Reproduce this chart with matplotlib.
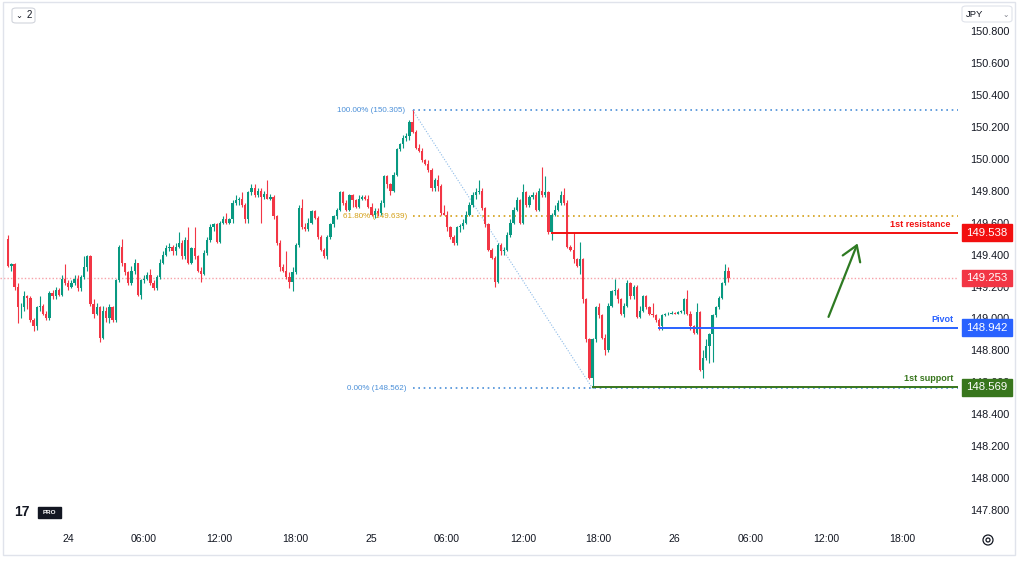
import numpy as np
import matplotlib
matplotlib.use('Agg')
import matplotlib.pyplot as plt
from matplotlib.patches import Rectangle, FancyBboxPatch, Ellipse, RegularPolygon
from matplotlib.transforms import blended_transform_factory

plt.rcParams['font.family'] = ['Liberation Sans', 'DejaVu Sans']

# USDJPY 15 min candles
first_open = 149.50
closes = [
    149.33, 149.34, 149.20, 149.07, 149.07, 149.14, 149.13, 148.99, 148.95, 149.07,
    149.08, 149.03, 149.00, 149.16, 149.14, 149.18, 149.15, 149.25, 149.22, 149.20,
    149.22, 149.25, 149.19, 149.26, 149.32, 149.39, 149.09, 149.03, 149.07, 148.88,
    149.05, 149.00, 149.07, 148.99, 149.24, 149.45, 149.35, 149.29, 149.22, 149.30,
    149.35, 149.15, 149.24, 149.25, 149.27, 149.22, 149.19, 149.26, 149.35, 149.40,
    149.44, 149.45, 149.42, 149.45, 149.47, 149.39, 149.49, 149.35, 149.44, 149.39,
    149.30, 149.28, 149.41, 149.49, 149.57, 149.59, 149.48, 149.60, 149.62, 149.60,
    149.62, 149.72, 149.74, 149.75, 149.71, 149.62, 149.79, 149.82, 149.77, 149.80,
    149.76, 149.78, 149.75, 149.76, 149.64, 149.47, 149.32, 149.30, 149.26, 149.23,
    149.29, 149.46, 149.69, 149.57, 149.56, 149.60, 149.67, 149.63, 149.51, 149.43,
    149.39, 149.51, 149.59, 149.64, 149.68, 149.79, 149.72, 149.68, 149.77, 149.74,
    149.70, 149.75, 149.76, 149.75, 149.70, 149.65, 149.67, 149.66, 149.72, 149.89,
    149.84, 149.80, 149.90, 150.06, 150.09, 150.13, 150.14, 150.23, 150.17, 150.07,
    150.05, 149.99, 149.97, 149.93, 149.82, 149.87, 149.83, 149.66, 149.65, 149.57,
    149.51, 149.47, 149.57, 149.58, 149.60, 149.65, 149.71, 149.77, 149.79, 149.80,
    149.69, 149.59, 149.43, 149.38, 149.23, 149.46, 149.42, 149.43, 149.52, 149.60,
    149.68, 149.74, 149.60, 149.79, 149.71, 149.76, 149.77, 149.68, 149.80, 149.77,
    149.79, 149.54, 149.65, 149.68, 149.72, 149.77, 149.72, 149.45, 149.43, 149.37,
    149.33, 149.37, 149.12, 148.87, 148.63, 148.87, 149.07, 149.02, 148.88, 148.80,
    149.08, 149.17, 149.18, 149.12, 149.03, 149.08, 149.22, 149.14, 149.20, 149.01,
    149.05, 149.14, 149.07, 149.03, 149.02, 148.99, 148.95, 149.02, 149.025, 149.03,
    149.035, 149.03, 149.04, 149.045, 149.12, 149.03, 148.95, 148.91, 149.04, 148.68,
    148.75, 148.83, 148.90, 149.02, 149.07, 149.13, 149.22, 149.30, 149.253]
highs = [
    149.52, 149.35, 149.35, 149.22, 149.10, 149.17, 149.15, 149.14, 149.00, 149.08,
    149.14, 149.09, 149.05, 149.17, 149.18, 149.20, 149.19, 149.27, 149.34, 149.24,
    149.24, 149.27, 149.27, 149.27, 149.39, 149.40, 149.40, 149.12, 149.10, 149.08,
    149.08, 149.07, 149.09, 149.08, 149.25, 149.46, 149.50, 149.35, 149.30, 149.33,
    149.37, 149.35, 149.25, 149.27, 149.29, 149.31, 149.24, 149.27, 149.37, 149.42,
    149.46, 149.47, 149.46, 149.47, 149.54, 149.49, 149.51, 149.57, 149.45, 149.57,
    149.40, 149.32, 149.43, 149.51, 149.59, 149.60, 149.60, 149.61, 149.64, 149.66,
    149.63, 149.74, 149.77, 149.76, 149.79, 149.72, 149.80, 149.84, 149.84, 149.82,
    149.82, 149.80, 149.87, 149.78, 149.77, 149.65, 149.49, 149.34, 149.42, 149.29,
    149.32, 149.47, 149.71, 149.75, 149.60, 149.63, 149.68, 149.68, 149.64, 149.52,
    149.44, 149.52, 149.60, 149.65, 149.69, 149.80, 149.80, 149.74, 149.78, 149.78,
    149.75, 149.77, 149.77, 149.77, 149.77, 149.72, 149.69, 149.69, 149.74, 149.90,
    149.90, 149.85, 149.92, 150.07, 150.10, 150.15, 150.16, 150.24, 150.305, 150.18,
    150.09, 150.07, 150.00, 149.99, 149.94, 149.88, 149.90, 149.84, 149.71, 149.67,
    149.58, 149.52, 149.58, 149.59, 149.62, 149.67, 149.73, 149.79, 149.82, 149.87,
    149.82, 149.70, 149.60, 149.44, 149.39, 149.47, 149.47, 149.45, 149.54, 149.62,
    149.70, 149.76, 149.75, 149.84, 149.80, 149.77, 149.79, 149.79, 149.82, 149.95,
    149.89, 149.80, 149.66, 149.71, 149.74, 149.80, 149.82, 149.74, 149.46, 149.54,
    149.38, 149.48, 149.38, 149.13, 148.88, 148.88, 149.08, 149.10, 149.03, 148.90,
    149.10, 149.18, 149.25, 149.19, 149.13, 149.10, 149.24, 149.23, 149.21, 149.21,
    149.08, 149.15, 149.15, 149.08, 149.10, 149.03, 149.00, 149.03, 149.035, 149.04,
    149.045, 149.04, 149.05, 149.055, 149.13, 149.18, 149.05, 148.96, 149.10, 149.05,
    148.80, 148.87, 148.91, 149.03, 149.08, 149.14, 149.23, 149.34, 149.32]
lows = [
    149.32, 149.30, 149.18, 148.97, 149.00, 149.05, 149.06, 148.98, 148.92, 148.93,
    149.05, 149.02, 148.99, 148.99, 149.12, 149.12, 149.14, 149.14, 149.21, 149.18,
    149.19, 149.21, 149.17, 149.17, 149.25, 149.30, 149.08, 149.00, 149.02, 148.85,
    148.87, 148.98, 148.97, 148.98, 148.98, 149.23, 149.33, 149.27, 149.21, 149.21,
    149.28, 149.14, 149.12, 149.22, 149.24, 149.21, 149.18, 149.18, 149.25, 149.34,
    149.39, 149.42, 149.40, 149.40, 149.44, 149.37, 149.37, 149.34, 149.34, 149.37,
    149.29, 149.23, 149.27, 149.40, 149.48, 149.55, 149.47, 149.47, 149.59, 149.59,
    149.59, 149.60, 149.71, 149.71, 149.70, 149.60, 149.60, 149.77, 149.76, 149.76,
    149.60, 149.75, 149.75, 149.74, 149.62, 149.46, 149.30, 149.29, 149.25, 149.19,
    149.17, 149.28, 149.45, 149.56, 149.55, 149.55, 149.59, 149.62, 149.50, 149.42,
    149.38, 149.37, 149.50, 149.57, 149.62, 149.67, 149.71, 149.67, 149.67, 149.70,
    149.69, 149.69, 149.74, 149.74, 149.69, 149.64, 149.63, 149.64, 149.65, 149.70,
    149.82, 149.77, 149.79, 149.89, 150.05, 150.07, 150.11, 150.12, 150.16, 150.06,
    150.04, 149.98, 149.96, 149.92, 149.80, 149.80, 149.80, 149.65, 149.65, 149.55,
    149.50, 149.46, 149.46, 149.54, 149.56, 149.59, 149.64, 149.70, 149.75, 149.78,
    149.68, 149.57, 149.42, 149.37, 149.20, 149.22, 149.40, 149.40, 149.42, 149.51,
    149.59, 149.67, 149.59, 149.59, 149.70, 149.70, 149.75, 149.67, 149.67, 149.76,
    149.76, 149.53, 149.49, 149.64, 149.67, 149.71, 149.71, 149.44, 149.42, 149.35,
    149.32, 149.28, 149.10, 148.85, 148.62, 148.562, 148.85, 149.00, 148.87, 148.77,
    148.79, 149.07, 149.15, 149.10, 149.02, 149.01, 149.07, 149.12, 149.12, 149.00,
    149.00, 149.04, 149.06, 149.02, 149.01, 148.98, 148.93, 148.93, 149.015, 149.02,
    149.025, 149.025, 149.025, 149.035, 149.03, 149.02, 148.93, 148.90, 148.90, 148.67,
    148.63, 148.74, 148.72, 148.73, 149.01, 149.06, 149.12, 149.21, 149.23]

price_ticks = [150.8, 150.6, 150.4, 150.2, 150.0, 149.8, 149.6, 149.4, 149.2,
               149.0, 148.8, 148.6, 148.4, 148.2, 148.0, 147.8]
time_ticks = [18.9, 42.9, 66.9, 90.9, 114.9, 138.9, 162.9, 186.9, 210.9, 234.9, 258.9, 282.9]
time_labels = ['24', '06:00', '12:00', '18:00', '25', '06:00', '12:00', '18:00',
               '26', '06:00', '12:00', '18:00']

fib_high, fib_high_idx = 150.305, 128
fib_low, fib_low_idx = 148.562, 185
fib_618 = 149.639
resistance, res_start = 149.538, 172
pivot, pivot_start = 148.942, 206
support, sup_start = 148.569, 185
last_price = 149.253
arrow_from = (259.7, 149.01)
arrow_to = (268.9, 149.47)

UP = '#089981'
DOWN = '#f23645'
W, H = 1018, 561
XMIN, XMAX = -2.63, 300.7

fig = plt.figure(figsize=(W / 100, H / 100), dpi=100)
fig.patch.set_facecolor('white')
ax = fig.add_axes([0, 39 / H, 958 / W, 519 / H])
ax.set_xlim(XMIN, XMAX)
ax.set_ylim(147.726, 150.975)
for s in ax.spines.values():
    s.set_visible(False)

# candles
closes = np.array(closes)
opens = np.r_[first_open, closes[:-1]]
idx = np.arange(len(closes))
cols = np.where(closes >= opens, UP, DOWN)
lo = np.minimum(np.array(lows), np.minimum(opens, closes))
hi = np.maximum(np.array(highs), np.maximum(opens, closes))
ax.vlines(idx, lo, hi, colors=cols, lw=0.8, zorder=3)
body = np.maximum(np.abs(closes - opens), 0.005)
ax.bar(idx, body, bottom=np.minimum(opens, closes), width=0.72, color=cols, lw=0, zorder=3)

# price scale
ax.yaxis.tick_right()
ax.set_yticks(price_ticks)
ax.set_yticklabels([f'{v:.3f}' for v in price_ticks])
ax.tick_params(axis='y', length=0, pad=8.4, labelsize=7.8, labelcolor='#131722')
ax.set_xticks(time_ticks)
ax.set_xticklabels(time_labels)
ax.tick_params(axis='x', length=0, pad=9, labelsize=7.6, labelcolor='#131722')

# fib retracement
fib_blue = '#4a8fd8'
ax.plot([fib_high_idx, XMAX], [fib_high, fib_high], color=fib_blue, lw=1.2, ls=(0, (1, 2.2)), zorder=2)
ax.plot([fib_high_idx, XMAX], [fib_low, fib_low], color=fib_blue, lw=1.2, ls=(0, (1, 2.2)), zorder=2)
ax.plot([fib_high_idx, XMAX], [fib_618, fib_618], color='#d4a017', lw=1.2, ls=(0, (1, 2.2)), zorder=2)
ax.plot([fib_high_idx, fib_low_idx], [fib_high, fib_low], color='#8dbbe8', lw=0.8, ls=(0, (1, 1.5)), zorder=2)
ax.text(125.8, fib_high, f'100.00% ({fib_high:.3f})', color=fib_blue, fontsize=5.8, ha='right', va='center')
ax.text(126.2, fib_618, f'61.80% ({fib_618:.3f})', color='#d4a017', fontsize=5.8, ha='right', va='center', zorder=2)
ax.text(126.0, fib_low, f'0.00% ({fib_low:.3f})', color=fib_blue, fontsize=5.8, ha='right', va='center')

# levels
ax.axhline(last_price, color='#f7a1a8', lw=1, ls=(0, (1, 1.5)), zorder=1)
ax.plot([res_start, XMAX], [resistance] * 2, color='#f20f0f', lw=1.4, zorder=4)
ax.plot([pivot_start, XMAX], [pivot] * 2, color='#2962ff', lw=1.4, zorder=4)
ax.plot([sup_start, XMAX], [support] * 2, color='#38761d', lw=1.4, zorder=4)
ax.text(298.2, resistance + 0.05, '1st resistance', color='#f20f0f', fontsize=6.5, fontweight='bold', ha='right', va='center')
ax.text(299.3, pivot + 0.05, 'Pivot', color='#2962ff', fontsize=6.5, fontweight='bold', ha='right', va='center')
ax.text(299.3, support + 0.055, '1st support', color='#38761d', fontsize=6.5, fontweight='bold', ha='right', va='center')

ax.annotate('', xy=arrow_to, xytext=arrow_from,
            arrowprops=dict(arrowstyle='->,head_length=0.7,head_width=0.45', color='#2e7a22',
                            lw=1.6, mutation_scale=15, shrinkA=0, shrinkB=0))

# price tags on the scale
tr = blended_transform_factory(fig.transFigure, ax.transData)
for val, c in [(resistance, '#f20f0f'), (last_price, '#f23645'), (pivot, '#2962ff'), (support, '#38761d')]:
    ax.add_patch(Rectangle((962 / W, val - 0.052), 50 / W, 0.104, transform=tr, color=c, clip_on=False, zorder=6))
    ax.text(987 / W, val, f'{val:.3f}', transform=tr, color='white', fontsize=8.2, ha='center', va='center',
            clip_on=False, zorder=7)


def px(x, y):
    return x / W, 1 - y / H


# chrome: outer frame, widgets, logo, settings icon
fig.add_artist(Rectangle(px(3, 555), 1012 / W, 553 / H, fill=False, ec='#e0e3eb', lw=1))
fig.add_artist(FancyBboxPatch(px(12, 23), 23 / W, 15 / H, boxstyle='round,pad=0,rounding_size=0.004',
                              fc='white', ec='#d1d4dc', lw=0.8))
fig.text(*px(19, 15.5), '⌄', fontsize=6, color='#131722', ha='center', va='center', family='DejaVu Sans')
fig.text(*px(29, 15.5), '2', fontsize=7, color='#131722', ha='center', va='center')
fig.add_artist(FancyBboxPatch(px(962, 22), 50 / W, 16 / H, boxstyle='round,pad=0,rounding_size=0.004',
                              fc='white', ec='#e0e3eb', lw=0.8))
fig.text(*px(966, 14.5), 'JPY', fontsize=6.8, color='#131722', ha='left', va='center')
fig.text(*px(1006, 14.5), '⌄', fontsize=5.5, color='#787b86', ha='center', va='center', family='DejaVu Sans')

fig.text(*px(14, 512.5), '17', fontsize=10, fontweight='bold', color='#131722', ha='left', va='center')
fig.add_artist(Rectangle(px(38, 518), 23 / W, 11 / H, color='#131722'))
fig.text(*px(49.5, 512.5), 'PRO', fontsize=4.5, color='white', ha='center', va='center', fontweight='bold')

fig.add_artist(Ellipse(px(988, 540), 10 / W, 10 / H, fill=False, ec='#131722', lw=0.9))
fig.add_artist(Ellipse(px(988, 540), 4 / W, 4 / H, fill=False, ec='#131722', lw=0.9))

fig.savefig('out.png', dpi=100, facecolor='white')
